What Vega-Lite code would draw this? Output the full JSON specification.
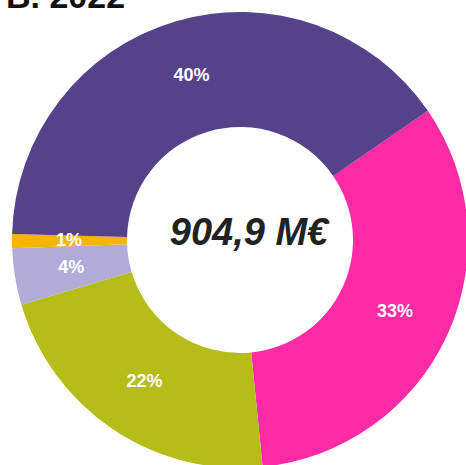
{
  "$schema": "https://vega.github.io/schema/vega-lite/v6.json",
  "width": 452,
  "height": 450,
  "autosize": "none",
  "padding": {"left": 14, "top": 15, "right": 0, "bottom": 0},
  "background": "white",
  "config": {"view": {"stroke": null}},
  "title": {
    "text": "B. 2022",
    "anchor": "start",
    "frame": "group",
    "orient": "top",
    "offset": 0,
    "baseline": "alphabetic",
    "dx": -8,
    "dy": 30,
    "fontSize": 34,
    "font": "Liberation Sans",
    "fontWeight": "bold",
    "color": "#111111"
  },
  "data": {
    "values": [
      {"segment": "A", "value": 33, "label": "33%", "order": 1},
      {"segment": "B", "value": 22, "label": "22%", "order": 2},
      {"segment": "C", "value": 4, "label": "4%", "order": 3},
      {"segment": "D", "value": 1, "label": "1%", "order": 4},
      {"segment": "E", "value": 40, "label": "40%", "order": 5}
    ]
  },
  "encoding": {
    "theta": {"field": "value", "type": "quantitative", "stack": true, "scale": {"range": [0.9687, 7.2519]}},
    "order": {"field": "order", "type": "quantitative"},
    "color": {
      "field": "segment",
      "type": "nominal",
      "legend": null,
      "scale": {
        "domain": ["A", "B", "C", "D", "E"],
        "range": ["#FF2AA6", "#B5BD19", "#B3ABD7", "#F7B500", "#54438A"]
      }
    }
  },
  "layer": [
    {
      "mark": {"type": "arc", "outerRadius": 228, "innerRadius": 113}
    },
    {
      "mark": {"type": "text", "radius": 171, "fontSize": 18, "fontWeight": "bold", "font": "Liberation Sans", "fill": "white"},
      "encoding": {
        "text": {"field": "label", "type": "nominal"},
        "color": {"value": "white"}
      }
    },
    {
      "data": {"values": [{"total": "904,9 M€"}]},
      "mark": {"type": "text", "fontSize": 38, "fontWeight": "bold", "fontStyle": "italic", "font": "Liberation Sans", "color": "#222222", "dx": 9, "dy": -6, "baseline": "middle", "align": "center"},
      "encoding": {
        "text": {"field": "total", "type": "nominal"},
        "theta": null,
        "order": null,
        "color": null
      }
    }
  ]
}
